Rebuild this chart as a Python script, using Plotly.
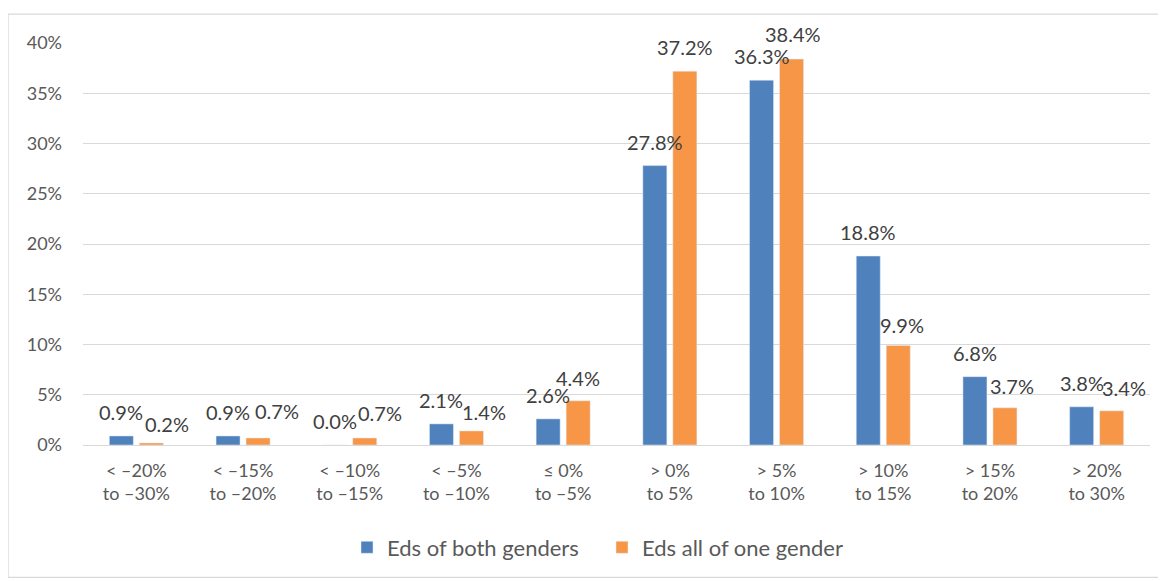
import plotly.graph_objects as go

categories = ["< –20%<br>to –30%", "< –15%<br>to –20%", "< –10%<br>to –15%", "< –5%<br>to –10%",
              "≤ 0%<br>to –5%", "> 0%<br>to 5%", "> 5%<br>to 10%", "> 10%<br>to 15%",
              "> 15%<br>to 20%", "> 20%<br>to 30%"]
both_genders = [0.009, 0.009, 0.000, 0.021, 0.026, 0.278, 0.363, 0.188, 0.068, 0.038]
one_gender = [0.002, 0.007, 0.007, 0.014, 0.044, 0.372, 0.384, 0.099, 0.037, 0.034]
series_names = ["Eds of both genders", "Eds all of one gender"]

# label nudges (pixels) mimicking the reference's label placement
orange_label_dx = [16, 19, 15, 13, 0, 0, 1, 4, 7, 12]
orange_label_dy = [19, 27, 25, 19, 23, 24, 25, 21, 22, 23]
blue_label_dy = 24

FONT = "Lato"
GRAY = "#595959"
LABEL = "#404040"
BLUE, ORANGE = "#4F81BD", "#F79646"
OFF = 8  # page body margin

fig = go.Figure()
fig.add_trace(go.Bar(x=categories, y=both_genders, name=series_names[0], marker=dict(color=BLUE)))
fig.add_trace(go.Bar(x=categories, y=one_gender, name=series_names[1], marker=dict(color=ORANGE)))

W, H = 1166 - OFF, 581 - OFF
L, T = 83 - OFF, 43 - OFF
R = W - (1150 - OFF)
B = H - (447 - OFF)
pw = W - L - R
ph = H - T - B

def py(y):
    return (ph - (y - OFF - T)) / ph

def px(x):
    return (x - OFF - L) / pw

cat_w = pw / len(categories)
bargap, bargroupgap = 0.4375, 0.2
slot = (1 - bargap) * cat_w / 2

annotations = []
for i, c in enumerate(categories):
    annotations.append(dict(x=c, y=both_genders[i], xref="x", yref="y",
                            text=f"{both_genders[i]*100:.1f}%", showarrow=False,
                            xshift=-slot / 2, yshift=blue_label_dy, yanchor="middle",
                            font=dict(family=FONT, size=20, color=LABEL)))
    annotations.append(dict(x=c, y=one_gender[i], xref="x", yref="y",
                            text=f"{one_gender[i]*100:.1f}%", showarrow=False,
                            xshift=slot / 2 + orange_label_dx[i], yshift=orange_label_dy[i],
                            yanchor="middle", font=dict(family=FONT, size=20, color=LABEL)))

fig.update_layout(
    width=W, height=H,
    margin=dict(l=L, r=R, t=T, b=B, pad=0),
    paper_bgcolor="white", plot_bgcolor="white",
    barmode="group", bargap=bargap, bargroupgap=bargroupgap,
    font=dict(family=FONT, color=GRAY, size=15),
    showlegend=True,
    legend=dict(orientation="h", x=px(362 - 15), xanchor="left", y=py(550),
                yanchor="middle", font=dict(family=FONT, size=22, color=GRAY),
                traceorder="normal", entrywidth=210, entrywidthmode="pixels"),
    xaxis=dict(showgrid=False, showline=False, tickfont=dict(family=FONT, size=18, color=GRAY),
               ticks="", ticklabelstandoff=13, fixedrange=True),
    yaxis=dict(range=[0, 0.4], dtick=0.05, tickformat=".0%", showgrid=True,
               gridcolor="#D9D9D9", gridwidth=1.3, zeroline=True, zerolinecolor="#D9D9D9",
               zerolinewidth=1.3, showline=False, ticks="", ticklabelstandoff=20,
               tickfont=dict(family=FONT, size=18, color=GRAY)),
    annotations=annotations,
    shapes=[dict(type="rect", xref="paper", yref="paper",
                 x0=px(8), x1=px(1165), y0=py(580), y1=py(14),
                 line=dict(color="#D9D9D9", width=1.3), fillcolor="rgba(0,0,0,0)", layer="below")],
)

fig.write_html("out.html")
